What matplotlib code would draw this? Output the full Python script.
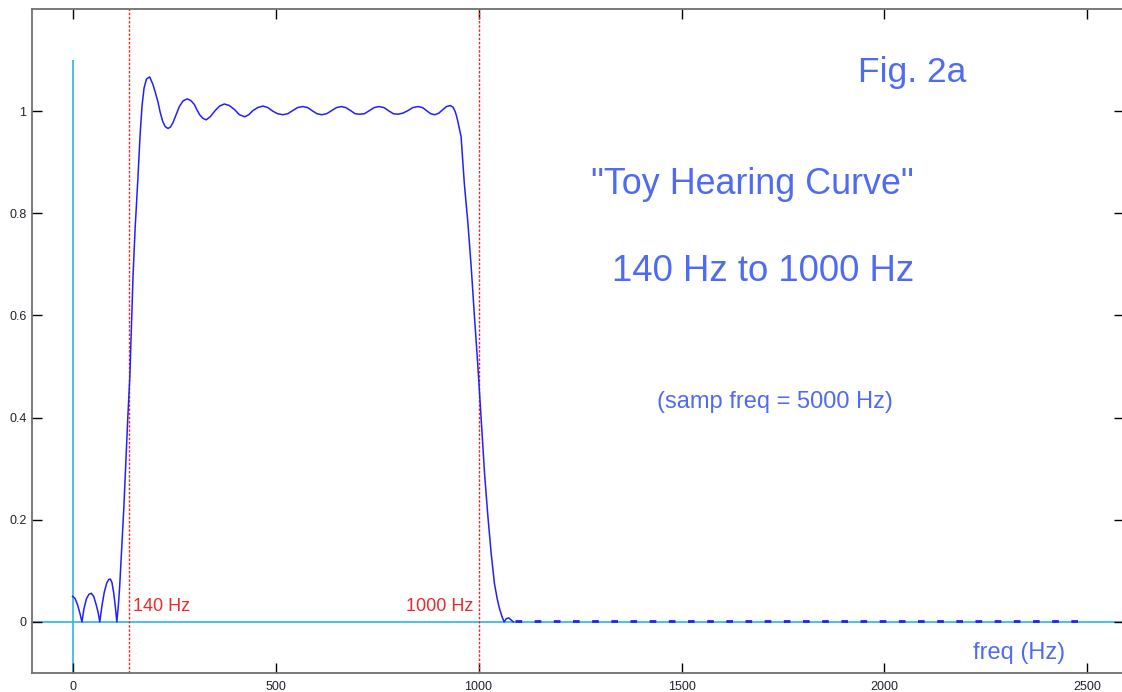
import matplotlib
matplotlib.use("Agg")
import matplotlib.pyplot as plt

# frequency response (Hz, magnitude)
freq = [0, 6, 12, 18, 23, 28, 34, 40, 46, 52, 58, 63, 67,
        72, 78, 84, 89, 93, 97, 101, 105, 109,
        113, 116, 120, 126, 131, 136, 141, 145, 149, 154, 161, 166, 171, 176, 182,
        190, 198, 204, 210, 216, 222, 228, 235, 241, 247, 255, 263, 272, 282,
        291, 300, 306, 313, 321, 329, 339, 350, 362, 374, 386, 399, 411, 424,
        434, 444, 456, 469, 481, 493, 505, 518, 530, 542, 554, 567, 579, 590,
        602, 614, 626, 638, 650, 662, 673, 685, 696, 707, 719, 731, 743, 755,
        767, 778, 790, 801, 813, 826, 838, 851, 862, 872, 882, 892, 902, 912,
        921, 930, 937, 942, 946, 949, 953, 957, 961, 965, 974, 982, 990, 998,
        1003, 1009, 1015, 1023, 1031, 1039, 1046, 1052, 1058, 1063, 1068, 1074,
        1080, 1086]
amp = [0.050, 0.046, 0.034, 0.017, 0.000, 0.026, 0.045, 0.054, 0.056, 0.050, 0.034, 0.018, 0.000,
       0.030, 0.058, 0.076, 0.083, 0.084, 0.077, 0.058, 0.032, 0.000,
       0.035, 0.070, 0.130, 0.220, 0.310, 0.400, 0.480, 0.580, 0.680, 0.770, 0.870, 0.950, 1.010, 1.045, 1.063,
       1.067, 1.052, 1.036, 1.019, 0.997, 0.980, 0.970, 0.966, 0.969, 0.977, 0.993, 1.009, 1.020, 1.024,
       1.021, 1.013, 1.003, 0.993, 0.986, 0.983, 0.989, 1.000, 1.010, 1.014, 1.011, 1.003, 0.993, 0.989,
       0.993, 1.001, 1.007, 1.010, 1.007, 1.000, 0.995, 0.993, 0.995, 1.001, 1.007, 1.009, 1.007, 1.001,
       0.995, 0.993, 0.995, 1.001, 1.007, 1.009, 1.007, 1.001, 0.995, 0.994, 0.995, 1.001, 1.007, 1.009,
       1.007, 1.001, 0.995, 0.994, 0.996, 1.001, 1.007, 1.009, 1.007, 1.001, 0.995, 0.993, 0.996, 1.003,
       1.009, 1.011, 1.008, 1.000, 0.990, 0.980, 0.965, 0.950, 0.905, 0.858, 0.779, 0.694, 0.597, 0.505,
       0.440, 0.365, 0.288, 0.207, 0.135, 0.076, 0.045, 0.025, 0.010, 0.000, 0.006, 0.008,
       0.004, 0.000]

# stopband tail drawn dashed along zero
tail_freq = [1090, 2483]
tail_amp = [0.001, 0.001]

band_edges = [140, 1000]
band_labels = ["140 Hz", "1000 Hz"]

W, H = 1122, 692
fig = plt.figure(figsize=(W / 100, H / 100), dpi=100)
ax = fig.add_axes([32 / W, 19 / H, 1092 / W, 664 / H])

def px(x, y):
    return x / W, 1 - y / H

blue = "#2020ff"
cyan = "#29b6e6"
red = "#f02828"
txtblue = "#4f6bf2"

ax.axhline(0, color=cyan, lw=1.2, zorder=1)
ax.vlines(0, -0.1, 1.1, color=cyan, lw=1.2, zorder=1)
for f in band_edges:
    ax.axvline(f, color=red, lw=1, ls=(0, (1.8, 1.2)), zorder=2)

ax.plot(freq, amp, color=blue, lw=1.1, zorder=3)
ax.plot(tail_freq, tail_amp, color=blue, lw=2, dashes=(2.4, 4.5), zorder=3)

ax.set_xlim(-100, 2590)
ax.set_ylim(-0.1, 1.2)
ax.set_xticks([0, 500, 1000, 1500, 2000, 2500])
ax.set_yticks([0, 0.2, 0.4, 0.6, 0.8, 1])
ax.set_yticklabels(["0", "0.2", "0.4", "0.6", "0.8", "1"])
ax.tick_params(direction="in", length=7.5, width=1, top=True, right=True,
               labelsize=9, labelcolor="#22222e", color="black")
ax.tick_params(axis="x", pad=6)
ax.tick_params(axis="y", pad=4)
for s in ["left", "bottom", "top"]:
    ax.spines[s].set_color("#707070")
    ax.spines[s].set_linewidth(1.3)
ax.spines["right"].set_visible(False)
for lab in ax.get_xticklabels() + ax.get_yticklabels():
    lab.set_fontfamily("Liberation Sans")

font = "Liberation Sans"
fig.text(*px(133, 611), band_labels[0], color=red, fontsize=13, family=font)
fig.text(*px(473, 611), band_labels[1], color=red, fontsize=13, family=font, ha="right")

fig.text(*px(858, 82), "Fig. 2a", color=txtblue, fontsize=25.5, family=font)
fig.text(*px(591, 194), '"Toy Hearing Curve"', color=txtblue, fontsize=25.8, family=font)
fig.text(*px(612, 281), "140 Hz to 1000 Hz", color=txtblue, fontsize=26.3, family=font)
fig.text(*px(657, 408), "(samp freq = 5000 Hz)", color=txtblue, fontsize=17, family=font)
fig.text(*px(973, 659), "freq (Hz)", color=txtblue, fontsize=17, family=font)

fig.savefig("out.png", dpi=100)
